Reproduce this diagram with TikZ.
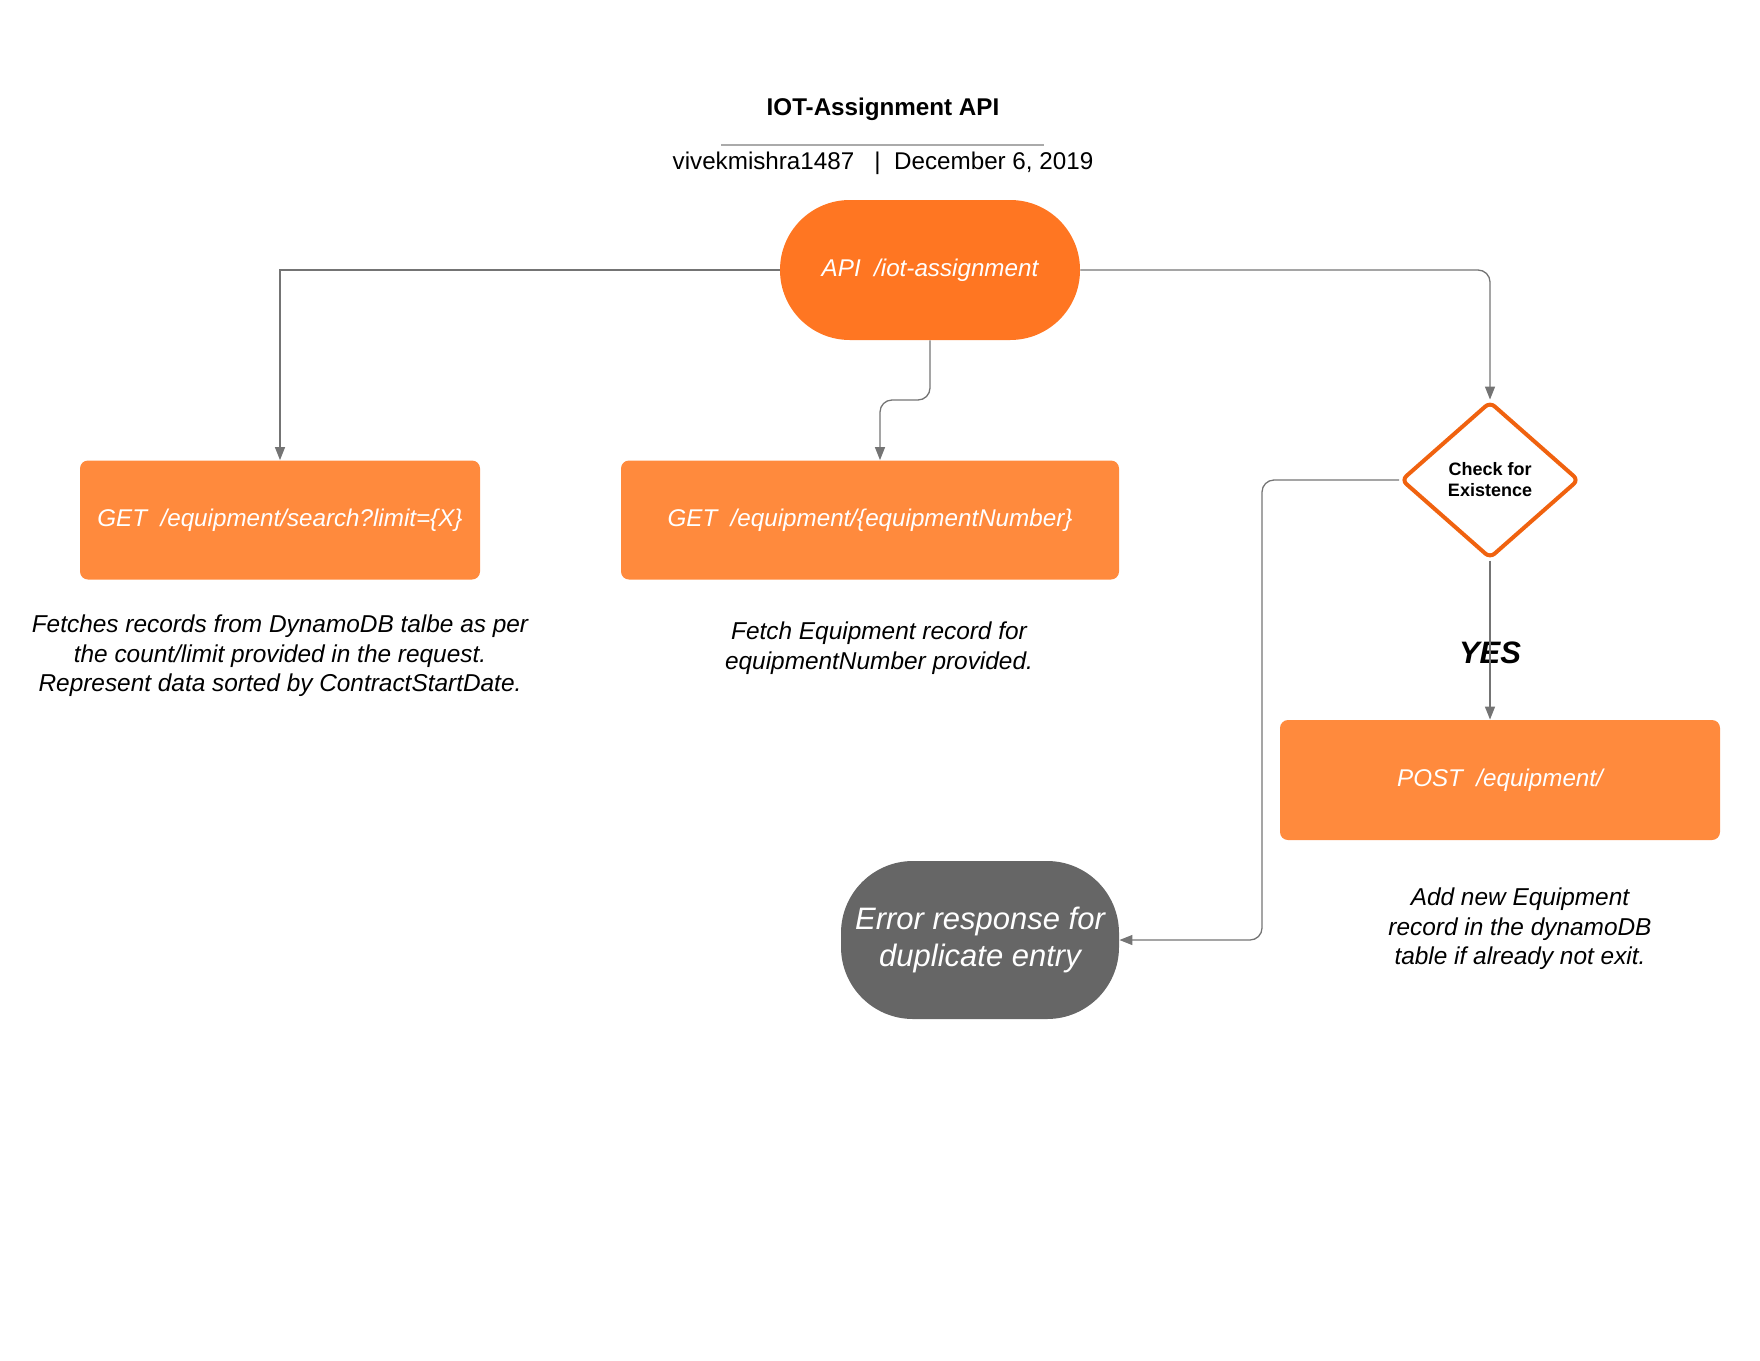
\documentclass[tikz,border=0pt]{standalone}
\usepackage{fontspec}
\setmainfont{Liberation Sans}
\usetikzlibrary{shapes.geometric,arrows.meta}
\definecolor{apiorange}{HTML}{FF7622}
\definecolor{boxorange}{HTML}{FF8A3D}
\definecolor{dmdorange}{HTML}{F0620F}
\definecolor{errgray}{HTML}{666666}
\definecolor{linegray}{HTML}{747474}
\definecolor{rulegray}{HTML}{AAAAAA}
\begin{document}
\begin{tikzpicture}[x=0.5pt,y=-0.5pt,
  conn/.style={draw=linegray, line width=0.65pt, rounded corners=6pt,
    -{Triangle[length=6.5pt,width=5pt]}},
  apinode/.style={fill=apiorange, rounded corners=34.9pt, minimum width=150pt,
    minimum height=70pt, inner sep=0pt, text=white,
    font=\itshape\fontsize{12.1}{14.5}\selectfont},
  epbox/.style={fill=boxorange, rounded corners=4pt, minimum height=59.5pt,
    inner sep=0pt, text=white, font=\itshape\fontsize{12.1}{14.5}\selectfont},
  errnode/.style={fill=errgray, rounded corners=36pt, minimum width=139pt,
    minimum height=79pt, inner sep=0pt, text=white, align=center,
    font=\itshape\fontsize{15.5}{18.5}\selectfont},
  chknode/.style={diamond, draw=dmdorange, line width=2pt, fill=white,
    rounded corners=3pt, minimum width=89pt, minimum height=78.5pt,
    inner sep=0pt, align=center, font=\bfseries\fontsize{9}{10.5}\selectfont},
  desc/.style={align=center, font=\itshape\fontsize{12.2}{14.75}\selectfont},
  titletext/.style={anchor=base, font=\bfseries\fontsize{12.1}{14.5}\selectfont},
  subtext/.style={anchor=base, font=\fontsize{12.1}{14.5}\selectfont},
  yeslabel/.style={font=\bfseries\itshape\fontsize{15.5}{18}\selectfont}
]
\useasboundingbox (0,0) rectangle (1760,1360);

% header
\node[titletext] (title) at (883,115) {IOT-Assignment API};
\coordinate (rl) at (721,145);
\coordinate (rr) at (1044,145);
\draw[rulegray, line width=0.8pt] (rl) -- (rr);
\node[subtext] (sub) at (883,169) {vivekmishra1487\ \ \ |\ \ December 6, 2019};

% nodes
\node[apinode] (api) at (930,270) {API\ \ /iot-assignment};
\node[epbox, minimum width=200pt] (get1) at (280,520) {GET\ \ /equipment/search?limit=\{X\}};
\node[epbox, minimum width=249pt] (get2) at (870,520) {GET\ \ /equipment/\{equipmentNumber\}};
\node[chknode] (chk) at (1490,480) {Check for\\Existence};
\node[epbox, minimum width=220pt, minimum height=60pt] (post) at (1500,780) {POST\ \ /equipment/};
\node[errnode] (err) at (980,940) {Error response for\\duplicate entry};

% descriptions
\node[desc] (d1) at (280,656) {Fetches records from DynamoDB talbe as per\\the count/limit provided in the request.\\Represent data sorted by ContractStartDate.};
\node[desc] (d2) at (879,648) {Fetch Equipment record for\\equipmentNumber provided.};
\node[desc] (d3) at (1520,929) {Add new Equipment\\record in the dynamoDB\\table if already not exit.};

% connectors
\coordinate (m) at (0,400);
\coordinate (ax) at (880,0);
\coordinate (lx) at (1262,0);
\draw[conn, rounded corners=0pt] (api.west) -| (get1.north);
\draw[conn] (api.south) -- (api.south |- m) -- (ax |- m) -- (ax |- get2.north);
\draw[conn] (api.east) -| (chk.north);
\draw[conn] (chk.west) -- (chk.west -| lx) -- (lx |- err.east) -- (err.east);
\node[yeslabel] (yes) at (1490,653) {YES};
\draw[conn] (chk.south) -- (chk.south |- post.north);
\end{tikzpicture}
\end{document}
